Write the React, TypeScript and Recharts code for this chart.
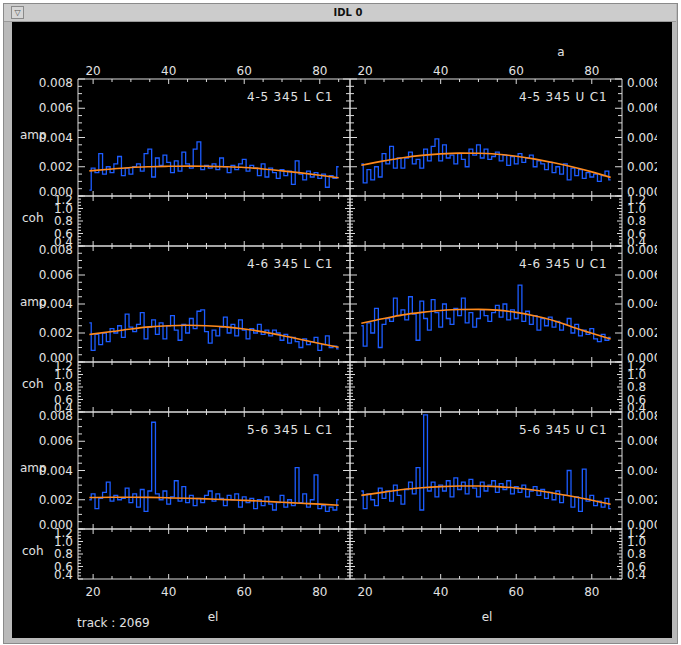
import React from 'react';
import { ComposedChart, Line, XAxis, YAxis } from 'recharts';

// elevation (deg) of each amp sample
const EL = [
  19, 20, 21, 22, 23, 24, 25, 26, 27, 28, 29, 30, 31, 32, 33, 34, 35, 36, 37, 38,
  39, 40, 41, 42, 43, 44, 45, 46, 47, 48, 49, 50, 51, 52, 53, 54, 55, 56, 57, 58,
  59, 60, 61, 62, 63, 64, 65, 66, 67, 68, 69, 70, 71, 72, 73, 74, 75, 76, 77, 78,
  79, 80, 81, 82, 83, 84, 85,
];
// elevation of the fitted curve samples
const FIT_EL = [19, 25, 30, 35, 40, 45, 50, 55, 60, 65, 70, 75, 80, 85];

// amplitudes, in units of 1e-3
const AMP_45L = [
  0.4, 1.9, 1.6, 2.9, 1.5, 2.0, 1.6, 2.2, 2.7, 1.4,
  1.9, 1.5, 2.0, 2.2, 1.7, 2.9, 3.2, 1.3, 2.6, 2.1,
  2.8, 2.3, 1.6, 2.4, 1.7, 3.0, 2.2, 1.9, 3.2, 3.7,
  1.8, 2.1, 1.9, 2.2, 1.8, 2.6, 2.0, 1.6, 2.1, 1.8,
  2.2, 2.5, 1.7, 2.1, 1.9, 1.4, 2.2, 1.3, 1.9, 1.6,
  1.2, 1.8, 1.4, 1.7, 0.8, 2.4, 1.5, 1.1, 1.7, 1.3,
  1.6, 1.2, 1.5, 0.6, 1.4, 1.2, 2.0,
];
const AMP_45U = [
  2.2, 0.9, 1.8, 1.1, 2.0, 1.3, 2.9, 2.2, 3.4, 1.9,
  2.6, 1.9, 2.6, 3.0, 2.2, 2.5, 1.9, 3.2, 2.4, 3.4,
  3.9, 2.4, 3.5, 2.6, 2.8, 2.2, 2.9, 2.5, 2.0, 3.2,
  2.8, 3.5, 2.6, 3.2, 2.5, 2.7, 3.0, 2.4, 2.8, 2.1,
  2.7, 2.2, 2.9, 2.3, 2.6, 2.8, 2.0, 2.4, 2.2, 1.8,
  2.3, 1.6, 2.0, 1.5, 2.2, 1.1, 1.9, 1.4, 1.8, 1.2,
  1.6, 1.3, 1.5, 1.0, 1.4, 1.7, 1.1,
];
const AMP_46L = [
  2.7, 0.8, 1.9, 1.2, 2.0, 1.4, 2.3, 2.0, 2.5, 1.7,
  3.3, 2.4, 2.1, 2.6, 3.4, 1.6, 2.4, 2.9, 1.9, 2.7,
  1.6, 2.5, 3.2, 2.2, 1.5, 2.6, 2.0, 3.0, 2.3, 3.5,
  3.6, 2.1, 1.3, 2.2, 1.8, 2.4, 3.1, 2.0, 2.6, 1.8,
  2.9, 2.2, 1.6, 2.3, 2.0, 2.6, 1.9, 2.2, 1.8, 2.2,
  2.0, 1.5, 1.9, 1.3, 1.7, 1.4, 1.0, 1.6, 1.2, 1.4,
  1.7, 0.8, 1.2, 1.8, 1.0, 1.1, 0.9,
];
const AMP_46U = [
  2.5, 1.1, 2.7, 2.0, 3.7, 1.0, 2.6, 3.0, 2.8, 4.4,
  3.2, 3.6, 2.9, 4.5, 3.3, 1.5, 4.2, 3.0, 2.2, 4.3,
  3.4, 2.4, 4.0, 3.0, 2.6, 3.7, 3.2, 4.4, 2.7, 3.4,
  2.4, 3.0, 3.6, 3.2, 2.8, 3.4, 3.9, 3.1, 4.0, 2.9,
  3.6, 3.0, 5.3, 2.8, 3.5, 2.6, 3.2, 2.2, 3.0, 2.5,
  3.1, 2.4, 2.8, 2.2, 2.6, 3.0, 2.0, 2.6, 1.8, 2.2,
  1.9, 2.3, 1.6, 1.4, 1.9, 1.5, 1.7,
];
const AMP_56L = [
  2.0, 2.4, 1.4, 2.1, 2.5, 3.2, 1.9, 2.3, 2.0, 2.1,
  2.8, 1.8, 2.4, 1.5, 2.7, 1.2, 2.6, 7.3, 2.4, 2.0,
  2.6, 1.7, 2.2, 3.3, 1.9, 2.9, 1.8, 2.3, 1.6, 2.1,
  1.8, 2.3, 2.6, 1.9, 2.4, 2.1, 1.6, 2.3, 2.0, 2.4,
  1.5, 2.2, 1.8, 2.1, 1.4, 2.0, 1.6, 2.2, 1.7, 1.3,
  1.8, 2.3, 1.5, 2.0, 1.6, 4.2, 1.8, 2.4, 1.5, 2.0,
  3.7, 1.4, 1.6, 1.2, 1.5, 1.3, 2.0,
];
const AMP_56U = [
  2.6, 1.4, 2.4, 2.0, 1.6, 2.8, 2.1, 2.6, 1.9, 3.0,
  2.3, 1.7, 2.7, 3.2, 2.4, 4.2, 1.3, 7.8, 2.6, 3.2,
  2.2, 3.0, 2.6, 3.3, 2.2, 3.5, 2.7, 3.2, 2.4, 3.4,
  2.8, 2.2, 3.2, 2.6, 3.0, 3.3, 2.5, 3.1, 2.7, 3.3,
  2.4, 2.9, 2.5, 3.0, 2.2, 2.6, 2.9, 2.3, 2.7, 2.1,
  2.5, 2.0, 2.6, 1.8, 2.3, 4.0, 1.5, 2.2, 1.2, 4.1,
  1.9, 2.3, 1.6, 1.9, 1.5, 2.1, 1.4,
];

// fitted curves, 1e-3 units, on FIT_EL
const FIT_45L = [1.72, 1.85, 1.95, 2.0, 2.03, 2.04, 2.03, 2.0, 1.95, 1.85, 1.72, 1.58, 1.42, 1.25];
const FIT_45U = [2.1, 2.4, 2.62, 2.78, 2.88, 2.93, 2.92, 2.85, 2.72, 2.52, 2.27, 1.98, 1.65, 1.27];
const FIT_46L = [1.9, 2.1, 2.28, 2.42, 2.5, 2.53, 2.5, 2.42, 2.28, 2.08, 1.83, 1.55, 1.28, 1.02];
const FIT_46U = [2.67, 3.0, 3.25, 3.42, 3.55, 3.62, 3.63, 3.58, 3.42, 3.17, 2.85, 2.4, 1.98, 1.58];
const FIT_56L = [2.15, 2.17, 2.17, 2.16, 2.13, 2.1, 2.06, 2.01, 1.96, 1.9, 1.83, 1.76, 1.7, 1.62];
const FIT_56U = [2.3, 2.52, 2.7, 2.82, 2.9, 2.94, 2.94, 2.9, 2.8, 2.65, 2.45, 2.22, 1.97, 1.69];

const PANEL_LABELS = [
  ['4-5 345 L C1', '4-5 345 U C1'],
  ['4-6 345 L C1', '4-6 345 U C1'],
  ['5-6 345 L C1', '5-6 345 U C1'],
];

const X_TICKS = [20, 25, 30, 35, 40, 45, 50, 55, 60, 65, 70, 75, 80, 85];
const AMP_TICKS = [0, 0.5, 1, 1.5, 2, 2.5, 3, 3.5, 4, 4.5, 5, 5.5, 6, 6.5, 7, 7.5, 8];
const COH_TICKS = [0.4, 0.45, 0.5, 0.55, 0.6, 0.65, 0.7, 0.75, 0.8, 0.85, 0.9, 0.95, 1.0, 1.05, 1.1, 1.15, 1.2];

const AX = '#dcdcdc';
const TXT = '#e2e2e2';
const BLUE = '#1c5cff';
const ORANGE = '#ff8a1c';
const FONT = 'DejaVu Sans';

const COL_X = [78, 350];
const PW = 272;
const AMP_TOP = [79, 246, 412];
const AMP_H = [117, 116, 117];
const COH_H = 50;

function rows(amp: number[], fit: number[]) {
  return EL.map((el, i) => {
    const k = FIT_EL.indexOf(el);
    return { el, amp: amp[i], fit: k >= 0 ? fit[k] : null };
  });
}

const AMP_DATA = [
  [rows(AMP_45L, FIT_45L), rows(AMP_45U, FIT_45U)],
  [rows(AMP_46L, FIT_46L), rows(AMP_46U, FIT_46U)],
  [rows(AMP_56L, FIT_56L), rows(AMP_56U, FIT_56U)],
];
const COH_DATA = EL.map((el) => ({ el, coh: null }));

type Side = 'top' | 'bottom' | 'left' | 'right';

function tickFn(side: Side, step: number, lenMaj: number, lenMin: number, fmt: any, lo: number, hi: number) {
  return (p: any) => {
    const x = p.x;
    const y = p.y;
    const v = p.payload.value;
    const isMajor = Math.abs(v / step - Math.round(v / step)) < 1e-6;
    const len = isMajor ? lenMaj : lenMin;
    let x2 = x, y2 = y, tx = x, ty = y;
    let anchor = 'middle';
    const shift = Math.abs(v - hi) < 1e-6 ? 4 : Math.abs(v - lo) < 1e-6 ? -4 : 0;
    if (side === 'bottom') { y2 = y - len; ty = y + 17; }
    if (side === 'top') { y2 = y + len; ty = y - 4; }
    if (side === 'left') { x2 = x + len; tx = x - 5; ty = y + 4 + shift; anchor = 'end'; }
    if (side === 'right') { x2 = x - len; tx = x + 5; ty = y + 4 + shift; anchor = 'start'; }
    return (
      <g>
        <line x1={x} y1={y} x2={x2} y2={y2} stroke={AX} strokeWidth={1} />
        {fmt && isMajor && (
          <text x={tx} y={ty} textAnchor={anchor} fill={TXT} fontSize={12} fontFamily={FONT}>
            {fmt(v)}
          </text>
        )}
      </g>
    );
  };
}

const ampFmt = (v: number) => (v / 1000).toFixed(3);
const cohFmt = (v: number) => v.toFixed(1);
const xFmt = (v: number) => String(v);

function Panel({ col, top, h, kind, data, xTop, xBottom }: any) {
  const isAmp = kind === 'amp';
  const padL = col === 0 ? 66 : 4;
  const padR = col === 0 ? 2 : 35;
  const padT = xTop ? 22 : 2;
  const padB = xBottom ? 24 : 2;
  const yDom = isAmp ? [0, 8] : [0.4, 1.2];
  const yTicks = isAmp ? AMP_TICKS : COH_TICKS;
  const yStep = isAmp ? 2 : 0.2;
  const yFmt = isAmp ? ampFmt : cohFmt;
  const yMaj = isAmp ? 7 : 5;
  const yMin = isAmp ? 4 : 3;
  const w = PW + padL + padR;
  const ht = h + padT + padB;
  return (
    <div style={{ position: 'absolute', left: COL_X[col] - padL, top: top - padT, width: w, height: ht, overflow: 'hidden' }}>
      <ComposedChart width={w} height={ht} data={data} margin={{ top: 0, right: 0, bottom: 0, left: 0 }}>
        <XAxis xAxisId="b" orientation="bottom" dataKey="el" type="number" domain={[16, 88]} allowDataOverflow
          ticks={X_TICKS} interval={0} height={padB} tickLine={false} tickSize={0} tickMargin={0}
          axisLine={{ stroke: AX }} tick={tickFn('bottom', 20, 5, 3, xBottom ? xFmt : null, 16, 88)} />
        <XAxis xAxisId="t" orientation="top" dataKey="el" type="number" domain={[16, 88]} allowDataOverflow
          ticks={X_TICKS} interval={0} height={padT} tickLine={false} tickSize={0} tickMargin={0}
          axisLine={{ stroke: AX }} tick={tickFn('top', 20, 5, 3, xTop ? xFmt : null, 16, 88)} />
        <YAxis yAxisId="l" orientation="left" type="number" domain={yDom} allowDataOverflow
          ticks={yTicks} interval={0} width={padL} tickLine={false} tickSize={0} tickMargin={0}
          axisLine={{ stroke: AX }} tick={tickFn('left', yStep, yMaj, yMin, col === 0 ? yFmt : null, yDom[0], yDom[1])} />
        <YAxis yAxisId="r" orientation="right" type="number" domain={yDom} allowDataOverflow
          ticks={yTicks} interval={0} width={padR} tickLine={false} tickSize={0} tickMargin={0}
          axisLine={{ stroke: AX }} tick={tickFn('right', yStep, yMaj, yMin, col === 1 ? yFmt : null, yDom[0], yDom[1])} />
        {isAmp ? (
          <Line xAxisId="b" yAxisId="l" dataKey="amp" type="step" stroke={BLUE} strokeWidth={1.3}
            dot={false} isAnimationActive={false} />
        ) : (
          <Line xAxisId="b" yAxisId="l" dataKey="coh" stroke={BLUE} dot={false} isAnimationActive={false} />
        )}
        {isAmp && (
          <Line xAxisId="b" yAxisId="l" dataKey="fit" type="monotone" connectNulls stroke={ORANGE}
            strokeWidth={1.6} dot={false} isAnimationActive={false} />
        )}
      </ComposedChart>
    </div>
  );
}

export default function App() {
  const txt = { fill: TXT, fontSize: 12, fontFamily: FONT } as any;
  return (
    <div style={{ position: 'absolute', left: 0, top: 0, width: 681, height: 645, background: '#ffffff', overflow: 'hidden' }}>
      <div style={{ position: 'absolute', left: 3, top: 3, width: 673, height: 639, background: '#b9b9b9', border: '1px solid #8a8a8a' }} />
      <div style={{ position: 'absolute', left: 4, top: 4, width: 672, height: 17, background: '#cccccc', borderBottom: '1px solid #9a9a9a' }} />
      <div style={{ position: 'absolute', left: 11, top: 6, width: 11, height: 11, border: '1px solid #8a8a8a', background: '#d6d6d6',
        fontSize: 8, lineHeight: '11px', textAlign: 'center', color: '#555', fontFamily: FONT }}>▽</div>
      <div style={{ position: 'absolute', left: 300, top: 5, width: 96, textAlign: 'center', fontFamily: FONT, fontWeight: 'bold',
        fontSize: 10, lineHeight: '15px', color: '#111' }}>IDL 0</div>
      <div style={{ position: 'absolute', left: 12, top: 22, width: 660, height: 616, background: '#000' }} />

      {AMP_TOP.map((t, r) =>
        [0, 1].map((c) => (
          <React.Fragment key={`${r}-${c}`}>
            <Panel col={c} top={t} h={AMP_H[r]} kind="amp" data={AMP_DATA[r][c]} xTop={r === 0} xBottom={false} />
            <Panel col={c} top={t + AMP_H[r]} h={COH_H} kind="coh" data={COH_DATA} xTop={false} xBottom={r === 2} />
          </React.Fragment>
        ))
      )}

      <svg width={681} height={645} style={{ position: 'absolute', left: 0, top: 0, pointerEvents: 'none' }}>
        <text x={561} y={56} textAnchor="middle" {...txt}>a</text>
        {AMP_TOP.map((t, r) => (
          <React.Fragment key={r}>
            <text x={20} y={t + 60} {...txt}>amp</text>
            <text x={22} y={t + AMP_H[r] + 26} {...txt}>coh</text>
            {[0, 1].map((c) => (
              <text key={c} x={COL_X[c] + 169} y={t + 22} letterSpacing={0.8} {...txt}>
                {PANEL_LABELS[r][c]}
              </text>
            ))}
          </React.Fragment>
        ))}
        <text x={213} y={621} textAnchor="middle" {...txt}>el</text>
        <text x={487} y={621} textAnchor="middle" {...txt}>el</text>
        <text x={77} y={627} {...txt}>track : 2069</text>
      </svg>
    </div>
  );
}
